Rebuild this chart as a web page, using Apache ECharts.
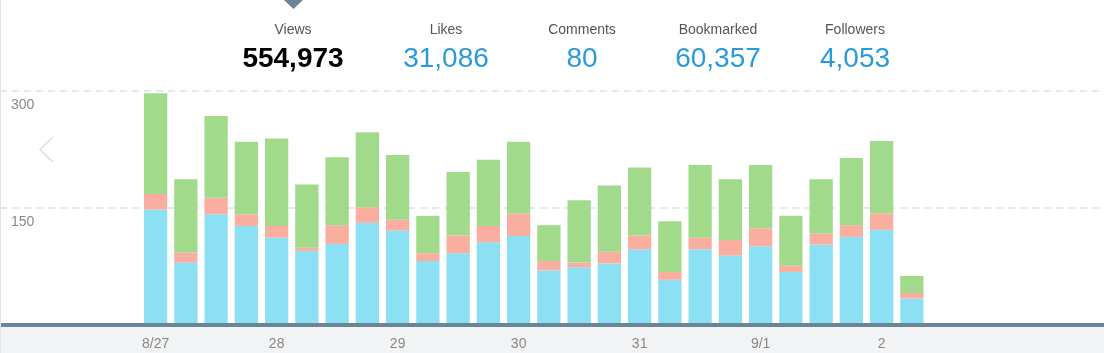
<!DOCTYPE html>
<html>
<head>
<meta charset="utf-8">
<script src="https://cdn.jsdelivr.net/npm/echarts@6/dist/echarts.min.js"></script>
<style>
    html, body { margin: 0; padding: 0; background: #fff; }
    #main { width: 1104px; height: 353px; }
</style>
</head>
<body>
<div id="main"></div>
<script>
    // 6-hour buckets, 8/27 00h .. 9/2 06h
    const categories = [
        '8/27 00', '8/27 06', '8/27 12', '8/27 18',
        '8/28 00', '8/28 06', '8/28 12', '8/28 18',
        '8/29 00', '8/29 06', '8/29 12', '8/29 18',
        '8/30 00', '8/30 06', '8/30 12', '8/30 18',
        '8/31 00', '8/31 06', '8/31 12', '8/31 18',
        '9/1 00', '9/1 06', '9/1 12', '9/1 18',
        '9/2 00', '9/2 06'
    ];
    const dayLabels = ['8/27', '28', '29', '30', '31', '9/1', '2'];
    const blueVals  = [148, 80, 142, 127, 112, 95, 104, 131, 121, 82, 92, 106, 114, 70, 74, 79, 97, 58, 97, 89, 101, 68, 103, 113, 122, 34];
    const redVals   = [20, 13, 21, 15, 15, 4, 24, 20, 14, 10, 23, 21, 29, 12, 6, 15, 18, 10, 15, 20, 23, 8, 14, 15, 21, 7];
    const greenVals = [129, 94, 105, 93, 112, 81, 87, 96, 83, 48, 81, 85, 92, 46, 80, 85, 87, 65, 93, 78, 81, 64, 70, 86, 93, 22];
    const yTicks = [0, 150, 300];

    const statNames  = ['Views', 'Likes', 'Comments', 'Bookmarked', 'Followers'];
    const statValues = ['554,973', '31,086', '80', '60,357', '4,053'];
    const statX = [293, 446, 582, 718, 855];

    let chart = echarts.init(document.getElementById('main'));

    let headerTexts = [];
    statNames.map((name, i) => {
        headerTexts.push({
            type: 'text', x: statX[i], y: 30,
            style: {
                text: name, align: 'center', verticalAlign: 'middle',
                font: '14px "Liberation Sans", Arial, sans-serif', fill: '#555'
            }
        });
        headerTexts.push({
            type: 'text', x: statX[i], y: 59,
            style: {
                text: statValues[i], align: 'center', verticalAlign: 'middle',
                font: (i === 0 ? 'bold 28px' : '28px') + ' "Liberation Sans", Arial, sans-serif',
                fill: i === 0 ? '#000' : '#2b9ad8'
            }
        });
    });

    const option = {
        backgroundColor: '#fff',
        animation: false,
        graphic: [
            // grey band below the axis
            { type: 'rect', z: -10, shape: { x: 0, y: 327, width: 1104, height: 26 }, style: { fill: '#f2f3f5' } },
            // left border
            { type: 'rect', z: 10, shape: { x: 0, y: 0, width: 1, height: 353 }, style: { fill: '#dde4ea' } },
            // pointer above "Views"
            { type: 'polygon', shape: { points: [[284, 0], [303, 0], [293.5, 9]] }, style: { fill: '#6a8597' } },
            // prev arrow
            { type: 'polyline', shape: { points: [[53, 137], [40, 149.5], [53, 162]] }, style: { stroke: '#dcdcdc', lineWidth: 1.5, fill: null } }
        ].concat(headerTexts),
        grid: [
            { left: 140.5, right: 177, top: 91, bottom: 28 },
            { left: 0, right: 0, top: 91, bottom: 28 }
        ],
        xAxis: [
            {
                type: 'category',
                gridIndex: 0,
                data: categories,
                axisLine: { show: false },
                axisTick: { show: false },
                axisLabel: {
                    interval: 0,
                    margin: 12,
                    color: '#888',
                    fontSize: 14,
                    fontFamily: '"Liberation Sans", Arial, sans-serif',
                    formatter: function (v, i) {
                        return i % 4 === 0 ? dayLabels[i / 4] : '';
                    }
                }
            },
            {
                type: 'category',
                gridIndex: 1,
                data: [''],
                z: 5,
                axisLine: { show: true, lineStyle: { color: '#6a8596', width: 4 } },
                axisTick: { show: false },
                axisLabel: { show: false }
            }
        ],
        yAxis: [
            { type: 'value', gridIndex: 0, min: 0, max: 300, show: false },
            {
                type: 'value',
                gridIndex: 1,
                min: yTicks[0],
                max: yTicks[2],
                interval: yTicks[1] - yTicks[0],
                axisLine: { show: false },
                axisTick: { show: false },
                axisLabel: {
                    inside: true,
                    margin: 11,
                    showMinLabel: false,
                    verticalAlign: 'top',
                    padding: [7, 0, 0, 0],
                    color: '#888',
                    fontSize: 14,
                    fontFamily: '"Liberation Sans", Arial, sans-serif'
                },
                splitLine: {
                    show: true,
                    lineStyle: { color: '#e4e9ef', width: 2, type: [7, 5] }
                }
            }
        ],
        series: [
            {
                name: 'Views', type: 'bar', stack: 'all', xAxisIndex: 0, yAxisIndex: 0,
                barCategoryGap: '23%', data: blueVals, itemStyle: { color: '#8be0f3' }
            },
            {
                name: 'Likes', type: 'bar', stack: 'all', xAxisIndex: 0, yAxisIndex: 0,
                barCategoryGap: '23%', data: redVals, itemStyle: { color: '#f9aea0' }
            },
            {
                name: 'Bookmarked', type: 'bar', stack: 'all', xAxisIndex: 0, yAxisIndex: 0,
                barCategoryGap: '23%', data: greenVals, itemStyle: { color: '#a2da8c' }
            }
        ]
    };

    chart.setOption(option, true);
</script>
</body>
</html>
